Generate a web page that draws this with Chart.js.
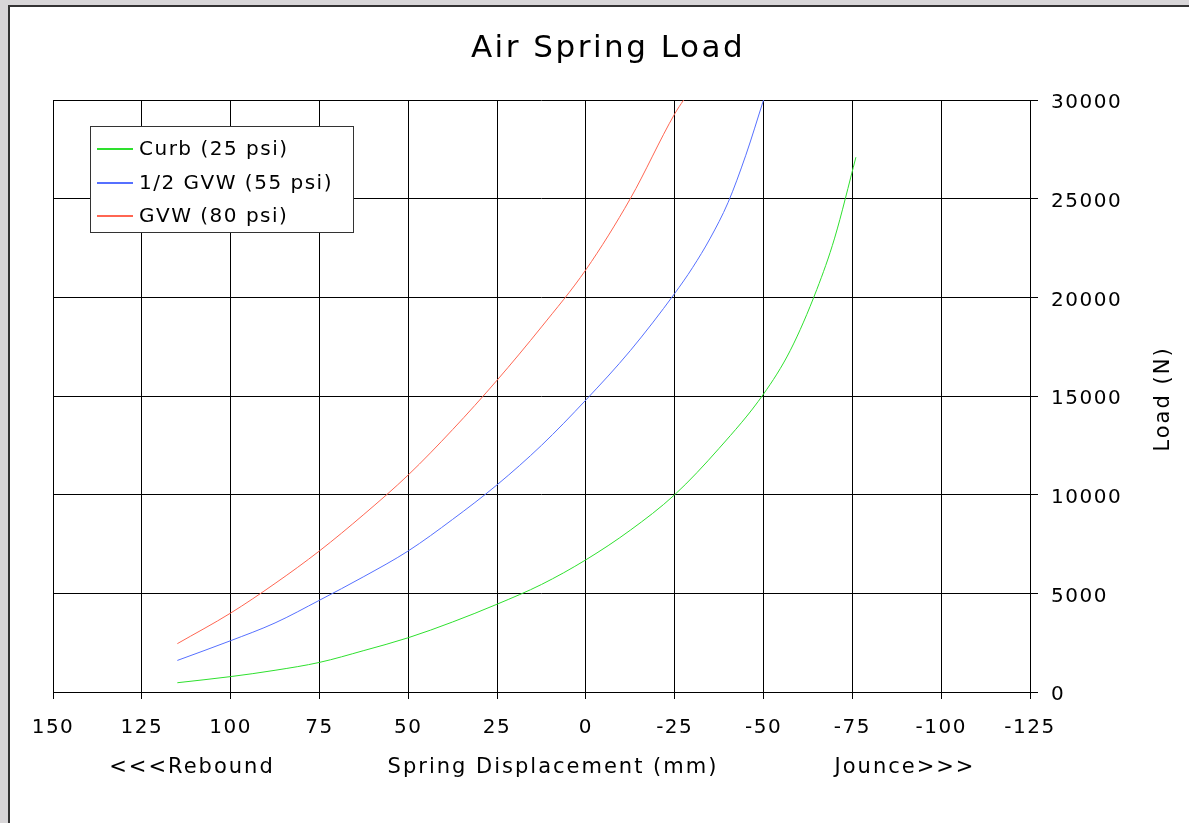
<!DOCTYPE html>
<html>
<head>
<meta charset="utf-8">
<script src="https://cdn.jsdelivr.net/npm/chart.js@4"></script>
<style>
  html, body { margin: 0; padding: 0; background: #d8d6d8; overflow: hidden; }
  .frame { position: absolute; left: 8px; top: 5px; width: 1200px; height: 840px;
           background: #fff; border-left: 2px solid #333; border-top: 2px solid #333; }
  #wrap { position: absolute; left: 0; top: 0; width: 1189px; height: 823px; }
</style>
</head>
<body>
<div class="frame"></div>
<div id="wrap"><canvas id="springChart" width="1189" height="823"></canvas></div>
<script>
// displacement (mm) -- positive = rebound, negative = jounce
const curbX  = [115, 100, 87.5, 75, 62.5, 50, 37.5, 25, 12.5, 0, -12.5, -25, -37.5, -50, -57.5, -65, -70, -76];
const curbY  = [470, 780, 1100, 1500, 2100, 2750, 3550, 4450, 5450, 6700, 8200, 10000, 12350, 15100, 17300, 20400, 23000, 27100];

const halfX  = [115, 100, 87.5, 75, 62.5, 50, 37.5, 25, 12.5, 0, -12.5, -25, -30, -35, -40, -45, -50];
const halfY  = [1600, 2600, 3500, 4650, 5850, 7150, 8750, 10500, 12500, 14800, 17300, 20200, 21500, 23000, 24800, 27200, 30000];

const gvwX   = [115, 100, 87.5, 75, 62.5, 50, 37.5, 25, 12.5, 0, -12.5, -25, -27.5];
const gvwY   = [2450, 4000, 5500, 7150, 9000, 11000, 13300, 15800, 18500, 21400, 25000, 29300, 30000];

const seriesNames = ['Curb (25 psi)', '1/2 GVW (55 psi)', 'GVW (80 psi)'];
const seriesColors = ['#2ee02e', '#5670ff', '#ff6652'];

const xTicks = [150, 125, 100, 75, 50, 25, 0, -25, -50, -75, -100, -125];
const yTicks = [0, 5000, 10000, 15000, 20000, 25000, 30000];

const FONT = '"DejaVu Sans", Verdana, sans-serif';

function toPoints(xs, ys) {
    return xs.map((x, i) => ({ x: x, y: ys[i] }));
}

// letter spacing like the original export
const spacingPlugin = {
    id: 'spacing',
    beforeInit(chart) { chart.ctx.letterSpacing = '1.5px'; },
    beforeDraw(chart) { chart.ctx.letterSpacing = '1.5px'; }
};

// titles and legend drawn by hand
const textPlugin = {
    id: 'texts',
    afterDraw(chart) {
        const ctx = chart.ctx;
        const area = chart.chartArea;
        ctx.save();
        ctx.fillStyle = '#000';
        ctx.textBaseline = 'middle';
        ctx.textAlign = 'center';

        ctx.letterSpacing = '2.5px';
        ctx.font = '31px ' + FONT;
        ctx.fillText('Air Spring Load', 608, 49);

        ctx.letterSpacing = '2px';
        ctx.font = '21px ' + FONT;
        const ty = area.bottom + 76;
        ctx.fillText('<<<Rebound', 192, ty);
        ctx.fillText('Spring Displacement (mm)', 553, ty);
        ctx.fillText('Jounce>>>', 905, ty);

        ctx.save();
        ctx.translate(1164, (area.top + area.bottom) / 2 + 3);
        ctx.rotate(-Math.PI / 2);
        ctx.fillText('Load (N)', 0, 0);
        ctx.restore();

        // legend box
        const lx = 90, ly = 126, lw = 263, lh = 106;
        ctx.fillStyle = '#fff';
        ctx.fillRect(lx, ly, lw, lh);
        ctx.strokeStyle = '#333';
        ctx.lineWidth = 1;
        ctx.strokeRect(lx + 0.5, ly + 0.5, lw, lh);

        ctx.letterSpacing = '1.5px';
        ctx.font = '20px ' + FONT;
        ctx.textAlign = 'left';
        chart.data.datasets.forEach((ds, i) => {
            const y = 149 + i * 33.5;
            ctx.fillStyle = ds.borderColor;
            ctx.fillRect(97, Math.round(y) - 1, 36, 2);
            ctx.fillStyle = '#000';
            ctx.fillText(ds.label, 139, y + 1);
        });
        ctx.restore();
    }
};

const datasets = [
    toPoints(curbX, curbY),
    toPoints(halfX, halfY),
    toPoints(gvwX, gvwY)
].map((pts, i) => ({
    label: seriesNames[i],
    data: pts,
    borderColor: seriesColors[i],
    backgroundColor: seriesColors[i],
    borderWidth: 1,
    pointRadius: 0,
    cubicInterpolationMode: 'monotone',
    fill: false
}));

new Chart(document.getElementById('springChart'), {
    type: 'line',
    data: { datasets: datasets },
    options: {
        responsive: false,
        animation: false,
        layout: { padding: { left: 53, top: 100, right: 59, bottom: 71 } },
        plugins: {
            legend: { display: false },
            title: { display: false },
            tooltip: { enabled: false }
        },
        scales: {
            x: {
                type: 'linear',
                reverse: true,
                min: xTicks[xTicks.length - 1],
                max: xTicks[0],
                afterBuildTicks: (scale) => { scale.ticks = xTicks.map(v => ({ value: v })); },
                afterFit: (scale) => { scale.height = 60; },
                ticks: {
                    color: '#000',
                    font: { family: FONT, size: 20 },
                    padding: 17,
                    maxRotation: 0,
                    callback: (v) => String(v)
                },
                grid: { color: '#000', lineWidth: 1, tickLength: 7, tickColor: '#000' },
                border: { color: '#000', width: 1 }
            },
            y: {
                position: 'right',
                min: 0,
                max: 30000,
                afterBuildTicks: (scale) => { scale.ticks = yTicks.map(v => ({ value: v })); },
                afterFit: (scale) => { scale.width = 100; },
                ticks: {
                    color: '#000',
                    font: { family: FONT, size: 20 },
                    padding: 13,
                    labelOffset: 3,
                    callback: (v) => String(v)
                },
                grid: { color: '#000', lineWidth: 1, tickLength: 8, tickColor: '#000' },
                border: { color: '#000', width: 1 }
            }
        }
    },
    plugins: [spacingPlugin, textPlugin]
});
</script>
</body>
</html>
